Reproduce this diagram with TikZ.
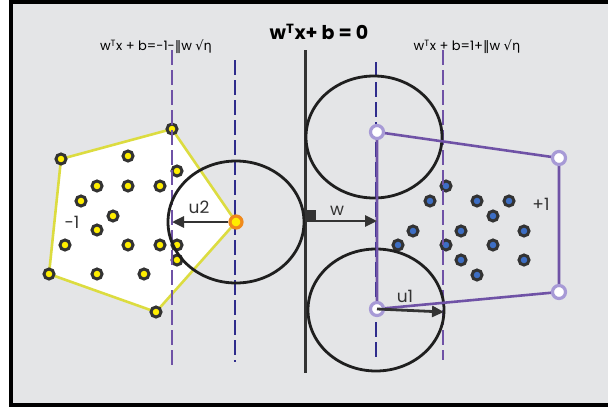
\documentclass[tikz,border=0pt]{standalone}
\usepackage{fontspec}
\setmainfont{Poppins}
\newfontfamily\symfont{DejaVu Sans}
\usetikzlibrary{arrows.meta}
\definecolor{bgGray}{HTML}{E4E5E7}
\definecolor{hullPurple}{HTML}{6F52A6}
\definecolor{marginNavy}{HTML}{2F2C8C}
\definecolor{hullYellow}{HTML}{DCDC40}
\definecolor{ptRing}{HTML}{333333}
\definecolor{ptYellow}{HTML}{FFEE00}
\definecolor{ptBlue}{HTML}{3D6EC4}
\definecolor{svRing}{HTML}{A79AD6}
\definecolor{svOrange}{HTML}{F08A1C}
\definecolor{inkGray}{HTML}{333333}
\begin{document}
\begin{tikzpicture}[x=1pt,y=-1pt,
    dot/.style={circle,draw=ptRing,line width=3pt,inner sep=0pt,minimum size=10pt},
    negdot/.style={dot,fill=ptYellow},
    posdot/.style={dot,fill=ptBlue},
    svdot/.style={circle,draw=svRing,line width=3.2pt,fill=white,inner sep=0pt,minimum size=13pt},
    margin/.style={line width=2.4pt,dash pattern=on 15pt off 5pt},
    ball/.style={draw=black!88,line width=2.8pt},
    vec/.style={-{Triangle[length=12pt,width=11pt]},draw=inkGray,line width=2.8pt},
    lbl/.style={text=inkGray,font=\fontsize{17}{19}\selectfont}]
% frame
\useasboundingbox (0,0) rectangle (608,410);
\fill[bgGray] (9,0) rectangle (608,406);
\draw[black,line width=3.5pt] (608,1.75) -- (10.75,1.75) -- (10.75,404.75) -- (608,404.75);
% titles
\node (hyp) at (319,32) {\fontsize{19}{21}\selectfont\bfseries w\textsuperscript{T}x+ b = 0};
\node (negtxt) at (156,47) {\fontsize{13}{15}\selectfont w\textsuperscript{T}x + b=-1-{\symfont‖}w {\symfont√η}};
\node (postxt) at (467,47) {\fontsize{13}{15}\selectfont w\textsuperscript{T}x + b=1+{\symfont‖}w {\symfont√η}};
% class -1 hull
\coordinate (na) at (61,159);
\coordinate (nb) at (172,129);
\coordinate (nc) at (236,222);
\coordinate (nd) at (156,312);
\coordinate (ne) at (49,274);
\draw[hullYellow,fill=white,line width=2.6pt] (na) -- (nb) -- (nc) -- (nd) -- (ne) -- cycle;
\foreach \p/\q [count=\i] in {128/156,177/171,97/186,128/186,160/186,81/201,113/216,97/230,
    65/245,128/245,160/245,177/245,177/260,97/274,144/274}
  \node[negdot] (neg-\i) at (\p,\q) {};
\foreach \v in {na,nb,nd,ne}
  \node[negdot] (neg-\v) at (\v) {};
% class +1 points
\foreach \p/\q [count=\i] in {446/186,430/201,477/201,509/201,493/216,413/231,461/231,524/231,
    398/245,446/245,493/245,461/260,524/260,477/275}
  \node[posdot] (pos-\i) at (\p,\q) {};
% margins and hyperplane
\coordinate (m1t) at (172,50);  \coordinate (m1b) at (172,365);
\coordinate (m2t) at (235,60);  \coordinate (m2b) at (235,362);
\coordinate (m3t) at (376,62);  \coordinate (m3b) at (376,360);
\coordinate (m4t) at (443,50);  \coordinate (m4b) at (443,360);
\coordinate (ht) at (305,50);   \coordinate (hb) at (305,373);
\draw[margin,hullPurple] (m1t) -- (m1b);
\draw[margin,marginNavy] (m2t) -- (m2b);
\draw[margin,marginNavy] (m3t) -- (m3b);
\draw[margin,hullPurple] (m4t) -- (m4b);
\draw[inkGray,line width=3pt] (ht) -- (hb);
% uncertainty balls
\draw[ball] (236,222) ellipse [x radius=68, y radius=61];
\draw[ball] (374,137) ellipse [x radius=68, y radius=61];
\draw[ball] (376,310) ellipse [x radius=68, y radius=61];
% class +1 hull
\coordinate (pa) at (377,132);
\coordinate (pb) at (559,158);
\coordinate (pc) at (559,292);
\coordinate (pd) at (377,309);
\draw[hullPurple,line width=2.6pt] (pa) -- (pb) -- (pc) -- (pd) -- cycle;
\foreach \v in {pa,pb,pc,pd}
  \node[svdot] (sv-\v) at (\v) {};
% vectors
\node[circle,draw=svOrange,fill=ptYellow,line width=3.2pt,inner sep=0pt,minimum size=12pt] (svneg) at (nc) {};
\coordinate (u2end) at (172,222);
\draw[vec] (svneg) -- (u2end);
\node[lbl] (u2txt) at (199,207) {u2};
\coordinate (wstart) at (305,221);
\coordinate (wend) at (377,221);
\fill[inkGray] (305,210) rectangle (316,221);
\draw[vec] (wstart) -- (wend);
\node[lbl] (wtxt) at (337,211) {w};
\coordinate (u1end) at (444,312);
\draw[vec] (sv-pd.center) -- (u1end);
\node[lbl] (u1txt) at (405,296) {u1};
\node[lbl] (negcls) at (72,222) {-1};
\node[lbl] (poscls) at (541,204) {+1};
\end{tikzpicture}
\end{document}
